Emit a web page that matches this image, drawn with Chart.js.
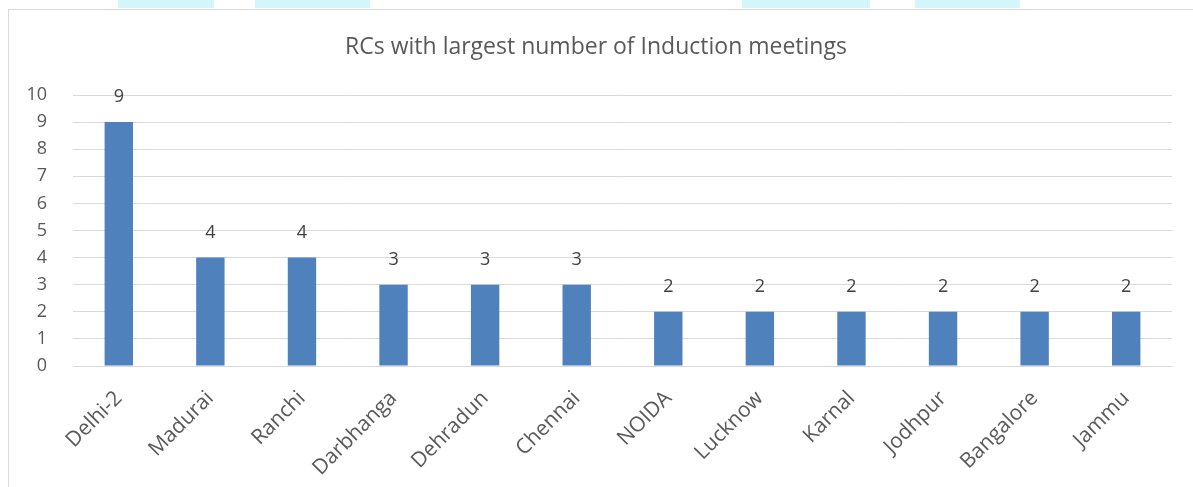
<!DOCTYPE html>
<html>
<head>
<meta charset="utf-8">
<script src="https://cdn.jsdelivr.net/npm/chart.js@4"></script>
<style>
  body { margin: 0; background: #fff; }
  #wrap { position: relative; width: 1193px; height: 487px; overflow: hidden; }
  .mark { position: absolute; top: 0; height: 8px; background: #d3f6fb; }
  #frame { position: absolute; left: 8px; top: 9px; width: 1200px; height: 500px; border: 1px solid #d9d9d9; box-sizing: border-box; }
  canvas { position: absolute; left: 0; top: 0; }
</style>
</head>
<body>
<div id="wrap">
  <div class="mark" style="left:118px;width:96px"></div>
  <div class="mark" style="left:255px;width:115px"></div>
  <div class="mark" style="left:742px;width:128px"></div>
  <div class="mark" style="left:915px;width:105px"></div>
  <div id="frame"></div>
  <canvas id="chart" width="1193" height="487"></canvas>
</div>
<script>
// Chart data
const categories = ['Delhi-2', 'Madurai', 'Ranchi', 'Darbhanga', 'Dehradun', 'Chennai',
    'NOIDA', 'Lucknow', 'Karnal', 'Jodhpur', 'Bangalore', 'Jammu'];
const meetings = [9, 4, 4, 3, 3, 3, 2, 2, 2, 2, 2, 2];
const yTicks = [0, 1, 2, 3, 4, 5, 6, 7, 8, 9, 10];

const fontFamily = "'Open Sans', 'Liberation Sans', sans-serif";

// Draw value labels above each bar
const valueLabels = {
    id: 'valueLabels',
    afterDatasetsDraw(chart) {
        const ctx = chart.ctx;
        const meta = chart.getDatasetMeta(0);
        ctx.save();
        ctx.font = '18px ' + fontFamily;
        ctx.fillStyle = '#404040';
        ctx.textAlign = 'center';
        ctx.textBaseline = 'middle';
        meta.data.forEach((bar, i) => {
            ctx.fillText(meetings[i], bar.x, bar.y - 25);
        });
        ctx.restore();
    }
};

new Chart(document.getElementById('chart').getContext('2d'), {
    type: 'bar',
    data: {
        labels: categories,
        datasets: [{
            data: meetings,
            backgroundColor: '#4f81bd',
            borderWidth: 0,
            categoryPercentage: 1,
            barPercentage: 0.31
        }]
    },
    options: {
        responsive: false,
        animation: false,
        layout: { padding: { left: 20, right: 21, top: 0, bottom: 0 } },
        plugins: {
            legend: { display: false },
            tooltip: { enabled: false },
            title: {
                display: true,
                text: 'RCs with largest number of Induction meetings',
                color: '#595959',
                font: { family: fontFamily, size: 23, weight: 'normal' },
                padding: { top: 33.2, bottom: 34.2 }
            }
        },
        scales: {
            x: {
                grid: { display: false },
                border: { display: false },
                ticks: {
                    color: '#595959',
                    font: { family: fontFamily, size: 21 },
                    maxRotation: 45,
                    minRotation: 45,
                    padding: 12
                },
                afterFit(scale) { scale.height = 121; }
            },
            y: {
                min: 0,
                max: 10,
                afterBuildTicks(scale) { scale.ticks = yTicks.map(v => ({ value: v })); },
                grid: { color: '#d9d9d9', lineWidth: 1, drawTicks: false },
                border: { display: false },
                ticks: {
                    color: '#595959',
                    font: { family: fontFamily, size: 18 },
                    padding: 26
                },
                afterFit(scale) { scale.width = 53; }
            }
        }
    },
    plugins: [valueLabels]
});
</script>
</body>
</html>
